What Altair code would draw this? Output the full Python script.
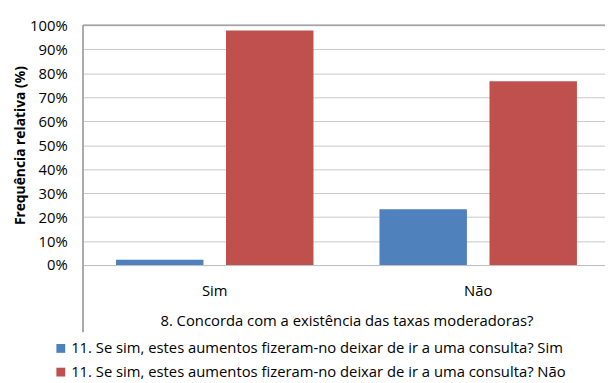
import altair as alt
import pandas as pd

categories = ["Sim", "Não"]
series = [
    "11. Se sim, estes aumentos fizeram-no deixar de ir a uma consulta? Sim",
    "11. Se sim, estes aumentos fizeram-no deixar de ir a uma consulta? Não",
]
values_sim_series = [2.2, 23.3]
values_nao_series = [97.8, 76.7]
colors = ["#4F81BD", "#C0504D"]
y_ticks = [0, 10, 20, 30, 40, 50, 60, 70, 80, 90, 100]

rows = []
for i, c in enumerate(categories):
    rows.append({"cat": c, "series": series[0], "value": values_sim_series[i]})
    rows.append({"cat": c, "series": series[1], "value": values_nao_series[i]})
df = pd.DataFrame(rows)

FONT = "Open Sans"

bars = alt.Chart(df).mark_bar().encode(
    x=alt.X(
        "cat:N",
        sort=categories,
        scale=alt.Scale(range=[0, 534], paddingInner=0, paddingOuter=0),
        axis=alt.Axis(
            title="8. Concorda com a existência das taxas moderadoras?",
            labelAngle=0,
            ticks=False,
            domain=True,
            domainColor="#BFBFBF",
            grid=False,
            labelPadding=19,
            titlePadding=15,
            titleFontWeight="normal",
        ),
    ),
    xOffset=alt.XOffset(
        "series:N", sort=series,
        scale=alt.Scale(paddingInner=0.205, paddingOuter=0.3),
    ),
    y=alt.Y(
        "value:Q",
        scale=alt.Scale(domain=[0, 100], nice=False),
        axis=alt.Axis(
            values=y_ticks,
            labelExpr="datum.value + '%'",
            title="Frequência relativa (%)",
            titleFontWeight="bold",
            titleFontSize=14,
            ticks=False,
            domain=False,
            gridColor="#C8C8C8",
            labelPadding=16,
            titlePadding=2,
        ),
    ),
    color=alt.Color(
        "series:N",
        sort=series,
        scale=alt.Scale(domain=series, range=colors),
        legend=alt.Legend(
            title=None,
            orient="none",
            legendX=-30,
            legendY=320,
            direction="vertical",
            symbolType="square",
            symbolSize=80,
            symbolStrokeWidth=0,
            rowPadding=8,
            labelFontSize=15,
            labelLimit=0,
            labelOffset=3,
        ),
    ),
)

left_line = alt.Chart(df).mark_rule(color="#A6A6A6").encode(
    x=alt.value(0), y=alt.value(0), y2=alt.value(311)
)
top_line = alt.Chart(df).mark_rule(color="#A6A6A6").encode(
    x=alt.value(0), x2=alt.value(529), y=alt.value(0)
)

chart = alt.layer(bars, left_line, top_line).properties(
    width=529,
    height=243,
    autosize=alt.AutoSizeParams(type="none"),
    padding={"left": 76, "top": 15, "right": 0, "bottom": 115},
).configure_view(stroke=None).configure_axis(
    labelFont=FONT, titleFont=FONT, labelFontSize=15, titleFontSize=15,
    labelColor="#000000", titleColor="#000000",
).configure_legend(labelFont=FONT, labelColor="#000000")

chart.save("out.html", embed_options={"renderer": "svg", "actions": False})
